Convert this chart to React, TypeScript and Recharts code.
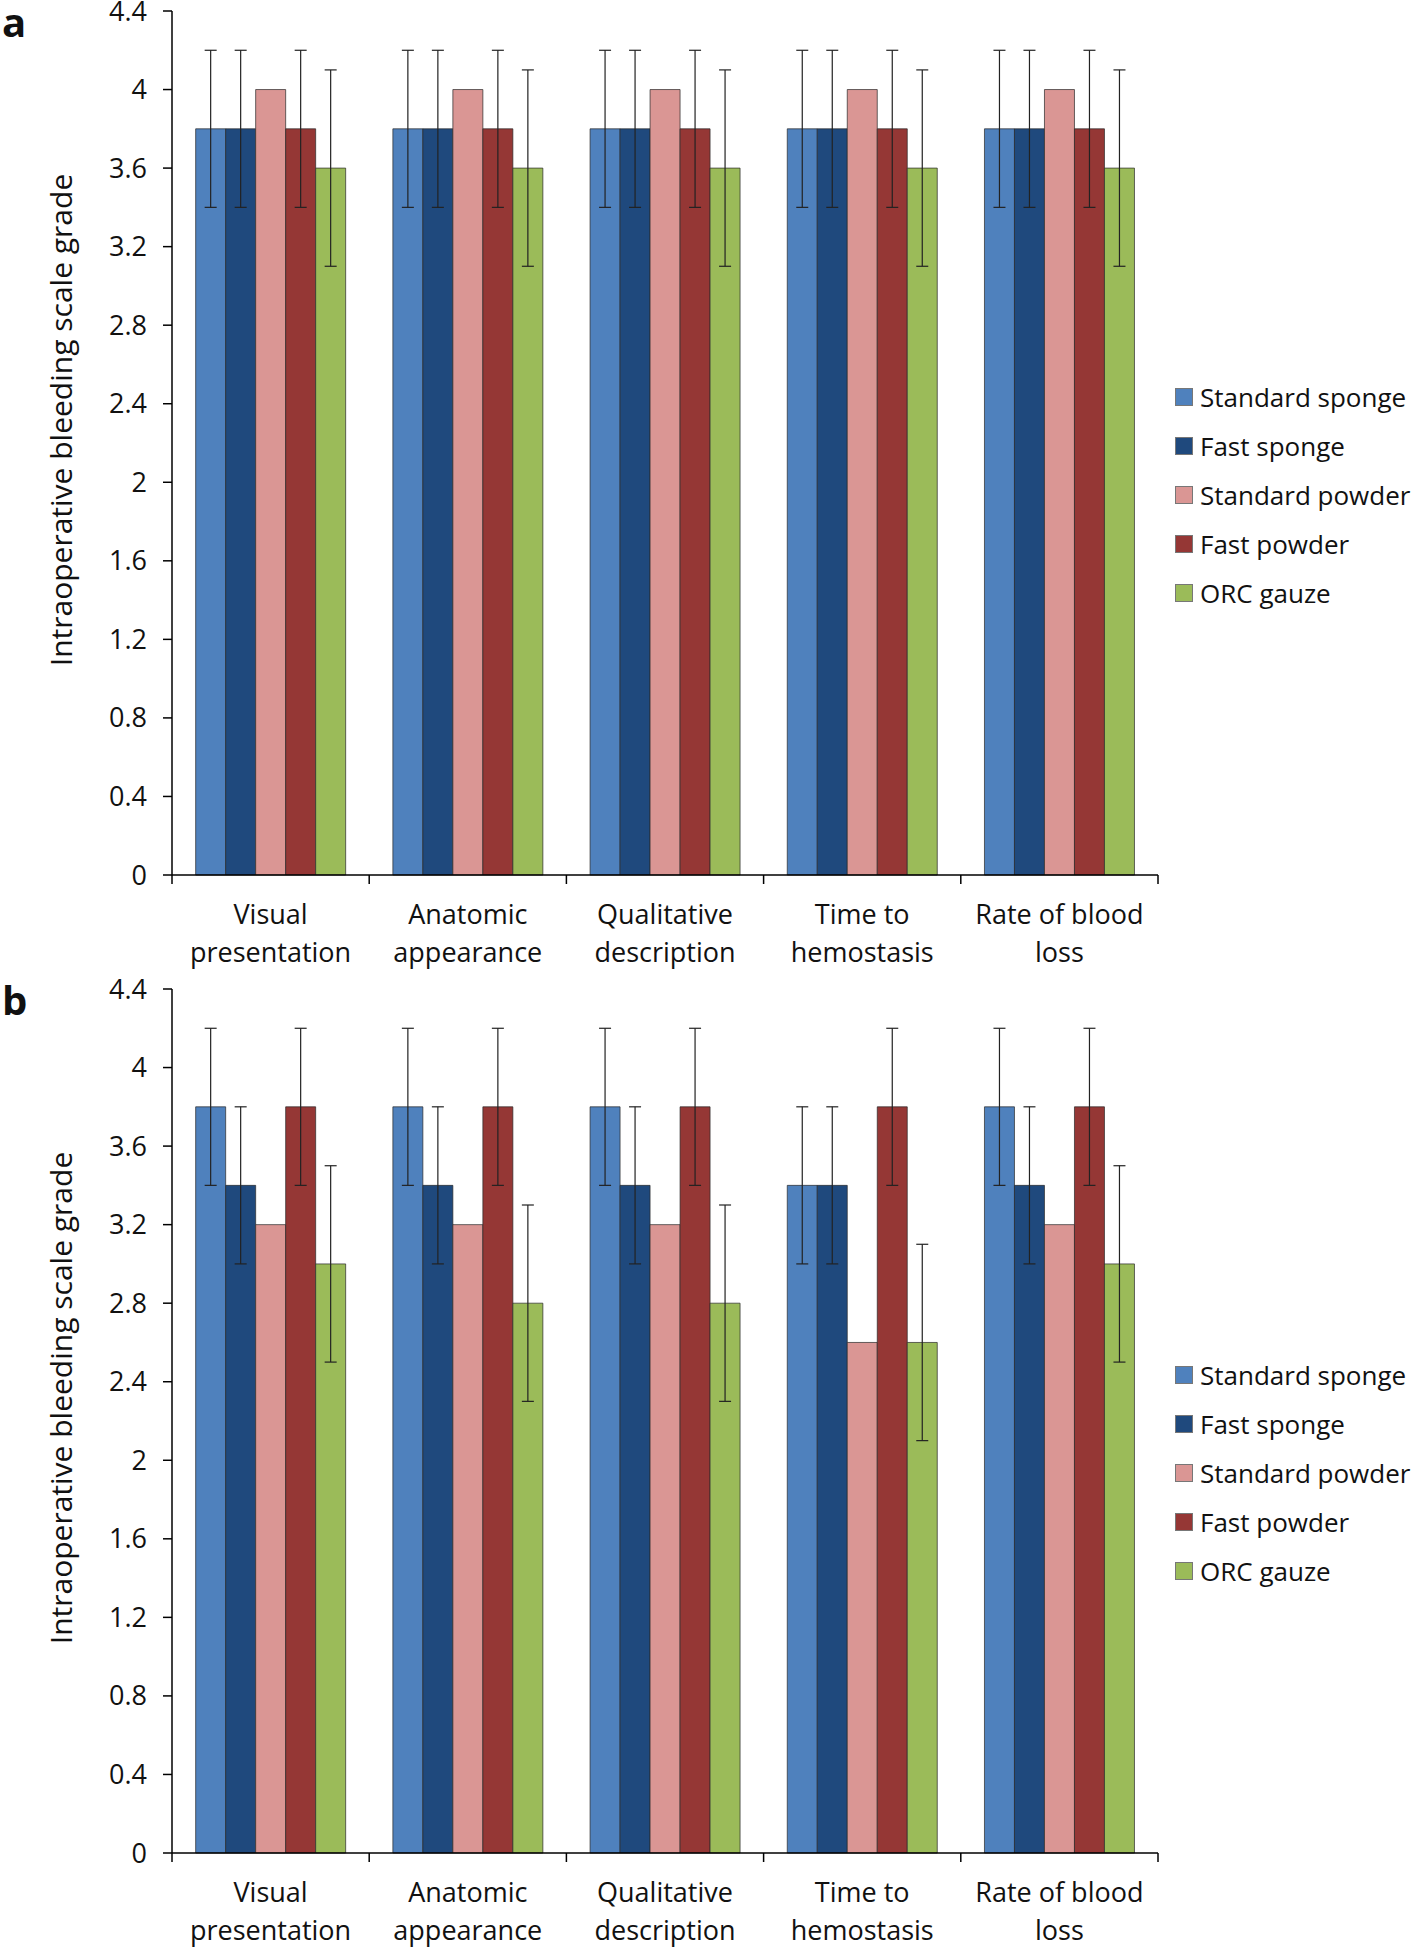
import React from 'react';
import { BarChart, Bar, XAxis, YAxis, ErrorBar } from 'recharts';

const categories = [
  'Visual presentation',
  'Anatomic appearance',
  'Qualitative description',
  'Time to hemostasis',
  'Rate of blood loss',
];
const categoryLines = [
  ['Visual', 'presentation'],
  ['Anatomic', 'appearance'],
  ['Qualitative', 'description'],
  ['Time to', 'hemostasis'],
  ['Rate of blood', 'loss'],
];
const seriesNames = ['Standard sponge', 'Fast sponge', 'Standard powder', 'Fast powder', 'ORC gauze'];
const seriesKeys = ['ss', 'fs', 'sp', 'fp', 'orc'];
const seriesColors = ['#4f81bd', '#1f497d', '#da9694', '#953735', '#9bbb59'];
const yTicks = [0, 0.4, 0.8, 1.2, 1.6, 2, 2.4, 2.8, 3.2, 3.6, 4, 4.4];

// panel a
const aStdSponge = [3.8, 3.8, 3.8, 3.8, 3.8];
const aStdSpongeErr = [0.4, 0.4, 0.4, 0.4, 0.4];
const aFastSponge = [3.8, 3.8, 3.8, 3.8, 3.8];
const aFastSpongeErr = [0.4, 0.4, 0.4, 0.4, 0.4];
const aStdPowder = [4, 4, 4, 4, 4];
const aFastPowder = [3.8, 3.8, 3.8, 3.8, 3.8];
const aFastPowderErr = [0.4, 0.4, 0.4, 0.4, 0.4];
const aOrc = [3.6, 3.6, 3.6, 3.6, 3.6];
const aOrcErr = [0.5, 0.5, 0.5, 0.5, 0.5];

// panel b
const bStdSponge = [3.8, 3.8, 3.8, 3.4, 3.8];
const bStdSpongeErr = [0.4, 0.4, 0.4, 0.4, 0.4];
const bFastSponge = [3.4, 3.4, 3.4, 3.4, 3.4];
const bFastSpongeErr = [0.4, 0.4, 0.4, 0.4, 0.4];
const bStdPowder = [3.2, 3.2, 3.2, 2.6, 3.2];
const bFastPowder = [3.8, 3.8, 3.8, 3.8, 3.8];
const bFastPowderErr = [0.4, 0.4, 0.4, 0.4, 0.4];
const bOrc = [3.0, 2.8, 2.8, 2.6, 3.0];
const bOrcErr = [0.5, 0.5, 0.5, 0.5, 0.5];

const buildRows = (
  ss: number[], ssErr: number[], fs: number[], fsErr: number[],
  sp: number[], fp: number[], fpErr: number[], orc: number[], orcErr: number[],
) =>
  categories.map((cat, i) => ({
    cat,
    ss: ss[i], ssErr: ssErr[i],
    fs: fs[i], fsErr: fsErr[i],
    sp: sp[i],
    fp: fp[i], fpErr: fpErr[i],
    orc: orc[i], orcErr: orcErr[i],
  }));

const dataA = buildRows(aStdSponge, aStdSpongeErr, aFastSponge, aFastSpongeErr, aStdPowder, aFastPowder, aFastPowderErr, aOrc, aOrcErr);
const dataB = buildRows(bStdSponge, bStdSpongeErr, bFastSponge, bFastSpongeErr, bStdPowder, bFastPowder, bFastPowderErr, bOrc, bOrcErr);

const FONT = '"Open Sans", sans-serif';
const PANEL_H = 978;
const PAD = 20; // svg starts a bit above the panel so the top tick label is not clipped

// label in two lines + tick marks on the category boundaries
const CategoryTick = (props: any) => {
  const { x, y, payload, index, visibleTicksCount, width } = props;
  const half = payload?.offset ? payload.offset : width / visibleTicksCount / 2;
  const lines = categoryLines[index] ?? [String(payload.value)];
  return (
    <g>
      <line x1={x - half} x2={x - half} y1={y} y2={y + 9} stroke="#000" strokeWidth={1.5} />
      {index === visibleTicksCount - 1 && (
        <line x1={x + half} x2={x + half} y1={y} y2={y + 9} stroke="#000" strokeWidth={1.5} />
      )}
      {lines.map((t: string, i: number) => (
        <text key={i} x={x} y={y + 49 + i * 38} textAnchor="middle" fontSize={27} fontFamily={FONT} fill="#111">
          {t}
        </text>
      ))}
    </g>
  );
};

const errKeys: Record<string, string | null> = { ss: 'ssErr', fs: 'fsErr', sp: null, fp: 'fpErr', orc: 'orcErr' };

function Panel({ data, tag, top }: { data: any[]; tag: string; top: number }) {
  return (
    <div style={{ position: 'absolute', left: 0, top, width: 1418, height: PANEL_H }}>
      <div style={{ position: 'absolute', left: 0, top: -PAD }}>
        <BarChart
          width={1418}
          height={975 + PAD}
          data={data}
          margin={{ top: 11 + PAD, right: 260, left: 112, bottom: 0 }}
          barCategoryGap="12%"
          barGap={0}
        >
          <XAxis
            dataKey="cat"
            interval={0}
            tickSize={0}
            tickMargin={0}
            tickLine={false}
            axisLine={{ stroke: '#000', strokeWidth: 1.5 }}
            tick={<CategoryTick />}
            height={100}
          />
          <YAxis
            width={60}
            domain={[0, 4.4]}
            ticks={yTicks}
            interval={0}
            tickSize={9}
            tickMargin={16}
            axisLine={{ stroke: '#000', strokeWidth: 1.5 }}
            tickLine={{ stroke: '#000', strokeWidth: 1.5 }}
            tick={{ fill: '#111', fontSize: 27, fontFamily: FONT }}
            tickFormatter={(v: number) => String(Number(v.toFixed(1)))}
          />
          {seriesKeys.map((k, i) => (
            <Bar
              key={k}
              dataKey={k}
              name={seriesNames[i]}
              fill={seriesColors[i]}
              stroke="#2a2a2a"
              strokeOpacity={0.7}
              strokeWidth={1}
              isAnimationActive={false}
            >
              {errKeys[k] && (
                <ErrorBar dataKey={errKeys[k] as string} width={6} stroke="#222" strokeWidth={1.2} direction="y" />
              )}
            </Bar>
          ))}
        </BarChart>
      </div>
      <div
        style={{
          position: 'absolute', left: 60, top: 420, transform: 'translate(-50%, -50%) rotate(-90deg)',
          whiteSpace: 'nowrap', fontSize: 30, fontFamily: FONT, color: '#111',
        }}
      >
        Intraoperative bleeding scale grade
      </div>
      <div style={{ position: 'absolute', left: 2, top: 2, fontSize: 40, lineHeight: '40px', fontWeight: 700, fontFamily: FONT, color: '#111' }}>
        {tag}
      </div>
      <div style={{ position: 'absolute', left: 1175, top: 372 }}>
        {seriesNames.map((n, i) => (
          <div key={n} style={{ display: 'flex', alignItems: 'center', height: 49 }}>
            <div style={{ width: 16, height: 16, background: seriesColors[i], border: '1px solid #777', marginRight: 7 }} />
            <span style={{ fontSize: 26, fontFamily: FONT, color: '#111', whiteSpace: 'nowrap' }}>{n}</span>
          </div>
        ))}
      </div>
    </div>
  );
}

export default function App() {
  return (
    <div style={{ position: 'absolute', left: 0, top: 0, width: 1418, height: 1948, background: '#fff', overflow: 'hidden' }}>
      <Panel data={dataA} tag="a" top={0} />
      <Panel data={dataB} tag="b" top={978} />
    </div>
  );
}
